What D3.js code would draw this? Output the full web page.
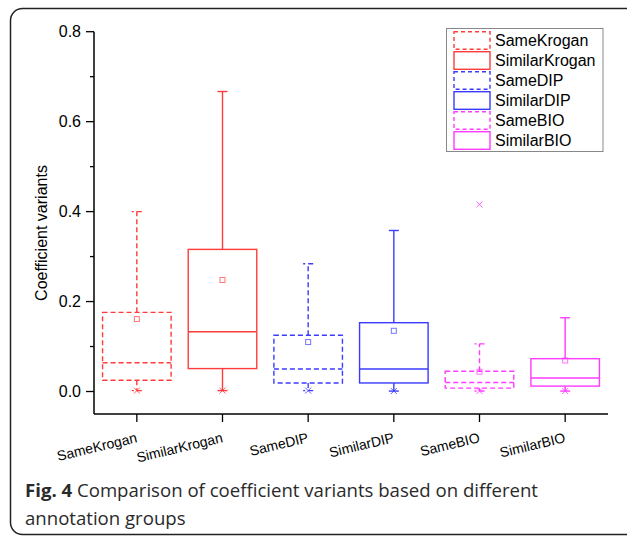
<!DOCTYPE html>
<html>
<head>
<meta charset="utf-8">
<script src="https://cdn.jsdelivr.net/npm/d3@7"></script>
<style>
  body { margin: 0; background: #fff; }
  svg { display: block; }
</style>
</head>
<body>
<div id="chart"></div>
<script>
// box statistics per annotation group
const groups = ["SameKrogan", "SimilarKrogan", "SameDIP", "SimilarDIP", "SameBIO", "SimilarBIO"]
const q1 = [0.025, 0.051, 0.019, 0.019, 0.0075, 0.012]
const median = [0.064, 0.133, 0.050, 0.050, 0.020, 0.030]
const q3 = [0.176, 0.316, 0.125, 0.153, 0.045, 0.073]
const mean = [0.161, 0.248, 0.110, 0.135, 0.044, 0.069]
const whiskerLow = [0.002, 0.002, 0.002, 0.001, 0.001, 0.001]
const whiskerHigh = [0.400, 0.667, 0.284, 0.358, 0.106, 0.164]
const minMark = [0.002, 0.002, 0.002, 0.001, 0.001, 0.001]
const maxMark = [null, null, null, null, 0.416, null]
const colors = ["#ff3b3b", "#ff3b3b", "#3b3bff", "#3b3bff", "#ff3bff", "#ff3bff"]
const dashed = [true, false, true, false, true, false]
const yTicks = [0.0, 0.2, 0.4, 0.6, 0.8]
const yMinorTicks = [0.1, 0.3, 0.5, 0.7]

const W = 627, H = 536
const svg = d3.select("#chart").append("svg")
  .attr("width", W).attr("height", H)

// rounded figure frame
svg.append("rect")
  .attr("x", 10.5).attr("y", 8.5)
  .attr("width", 640).attr("height", 526)
  .attr("rx", 12)
  .attr("fill", "none").attr("stroke", "#222").attr("stroke-width", 1.5)

let x = d3.scaleBand().domain(groups).range([94, 608]).padding(0)
let y = d3.scaleLinear().domain([-0.05, 0.8]).range([414, 31.7])

const g = svg.append("g")

// axes
g.append("line")
  .attr("x1", 94).attr("x2", 94)
  .attr("y1", y(0.8)).attr("y2", y(-0.05))
  .attr("stroke", "#000").attr("stroke-width", 1.5)
g.append("line")
  .attr("x1", 94).attr("x2", 608)
  .attr("y1", y(-0.05)).attr("y2", y(-0.05))
  .attr("stroke", "#000").attr("stroke-width", 1.5)

g.selectAll(".ytick").data(yTicks).join("line")
  .attr("x1", 86).attr("x2", 94)
  .attr("y1", d => y(d)).attr("y2", d => y(d))
  .attr("stroke", "#000").attr("stroke-width", 1.3)
g.selectAll(".yminor").data(yMinorTicks).join("line")
  .attr("x1", 90).attr("x2", 94)
  .attr("y1", d => y(d)).attr("y2", d => y(d))
  .attr("stroke", "#000").attr("stroke-width", 1.3)
g.selectAll(".ylab").data(yTicks).join("text")
  .attr("x", 81).attr("y", d => y(d))
  .attr("dy", "0.36em")
  .attr("text-anchor", "end")
  .attr("font-family", "Liberation Sans, Arial, sans-serif")
  .attr("font-size", 16)
  .text(d => d.toFixed(1))

g.append("text")
  .attr("transform", "translate(47,233) rotate(-90)")
  .attr("text-anchor", "middle")
  .attr("font-family", "Liberation Sans, Arial, sans-serif")
  .attr("font-size", 16)
  .text("Coefficient variants")

const cx = d => x(d) + x.bandwidth() / 2
g.selectAll(".xtick").data(groups).join("line")
  .attr("x1", cx).attr("x2", cx)
  .attr("y1", 414).attr("y2", 422)
  .attr("stroke", "#000").attr("stroke-width", 1.3)
g.selectAll(".xlab").data(groups).join("text")
  .attr("transform", d => "translate(" + (cx(d) + 1) + ",442) rotate(-13.5)")
  .attr("text-anchor", "end")
  .attr("font-family", "Liberation Sans, Arial, sans-serif")
  .attr("font-size", 14)
  .text(d => d)

// boxes
const bw = x.bandwidth() * 0.8
groups.forEach((name, i) => {
  const c = cx(name)
  const col = colors[i]
  const dash = dashed[i] ? "5,3" : null
  const bg = g.append("g")
    .attr("stroke", col).attr("stroke-width", 1.4).attr("fill", "none")

  // whiskers
  bg.append("line")
    .attr("x1", c).attr("x2", c)
    .attr("y1", y(q3[i])).attr("y2", y(whiskerHigh[i]))
    .attr("stroke-dasharray", dash)
  bg.append("line")
    .attr("x1", c).attr("x2", c)
    .attr("y1", y(q1[i])).attr("y2", y(whiskerLow[i]))
    .attr("stroke-dasharray", dash)
  // caps, drawn right to left so the dashed ones keep their right half
  bg.selectAll(".cap").data([whiskerHigh[i], whiskerLow[i]]).join("line")
    .attr("x1", c + 5).attr("x2", c - 5)
    .attr("y1", d => y(d)).attr("y2", d => y(d))
    .attr("stroke-dasharray", dash)

  bg.append("rect")
    .attr("x", c - bw / 2).attr("width", bw)
    .attr("y", y(q3[i])).attr("height", y(q1[i]) - y(q3[i]))
    .attr("stroke-dasharray", dash)
  bg.append("line")
    .attr("x1", c - bw / 2).attr("x2", c + bw / 2)
    .attr("y1", y(median[i])).attr("y2", y(median[i]))
    .attr("stroke-dasharray", dash)

  // mean square
  bg.append("rect")
    .attr("x", c - 2.5).attr("y", y(mean[i]) - 2.5)
    .attr("width", 5).attr("height", 5)
    .attr("stroke-width", 1).attr("stroke-opacity", 0.7)

  // min / max crosses
  ;[minMark[i], maxMark[i]].filter(v => v != null).forEach(v => {
    bg.append("path")
      .attr("d", "M" + (c - 3) + "," + (y(v) - 3) + "l6,6M" + (c + 3) + "," + (y(v) - 3) + "l-6,6")
      .attr("stroke-width", 1).attr("stroke-opacity", 0.8)
  })
})

// legend
const lg = svg.append("g")
lg.append("rect")
  .attr("x", 446.5).attr("y", 28.5).attr("width", 156.5).attr("height", 123)
  .attr("fill", "#fff").attr("stroke", "#888").attr("stroke-width", 1)
const rows = lg.selectAll(".row").data(groups).join("g")
  .attr("transform", (d, i) => "translate(454," + (31.7 + i * 20) + ")")
rows.append("rect")
  .attr("width", 36).attr("height", 17.6)
  .attr("fill", "none")
  .attr("stroke", (d, i) => colors[i])
  .attr("stroke-width", 1.4)
  .attr("stroke-dasharray", (d, i) => dashed[i] ? "4,3" : null)
rows.append("text")
  .attr("x", 41).attr("y", 14.3)
  .attr("font-family", "Liberation Sans, Arial, sans-serif")
  .attr("font-size", 16)
  .text(d => d)

// caption
const cap = svg.append("text")
  .attr("font-family", "Open Sans, sans-serif")
  .attr("font-size", 18.6)
  .attr("fill", "#2a2a2a")
cap.append("tspan").attr("x", 25).attr("y", 497)
  .attr("font-weight", "bold").text("Fig. 4")
cap.append("tspan").text(" Comparison of coefficient variants based on different")
cap.append("tspan").attr("x", 25).attr("y", 525)
  .text("annotation groups")
</script>
</body>
</html>
